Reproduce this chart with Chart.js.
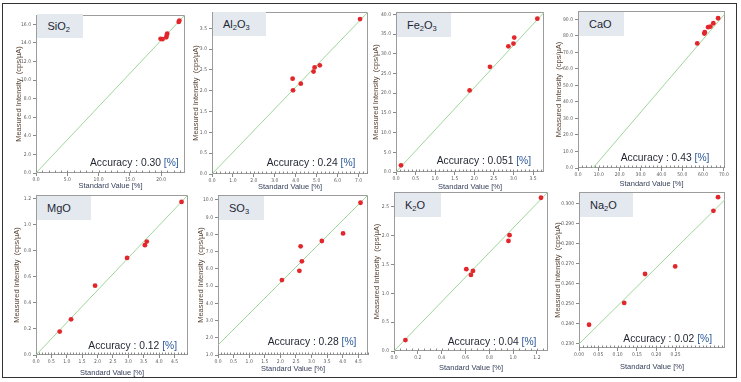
<!DOCTYPE html>
<html><head><meta charset="utf-8">
<script src="https://cdn.jsdelivr.net/npm/chart.js@4.4.1/dist/chart.umd.min.js"></script>
<style>
html,body{margin:0;padding:0;background:#fff;}
#stage{position:relative;width:741px;height:382px;overflow:hidden;font-family:"Liberation Sans",Arial,sans-serif;}
#frame{position:absolute;left:2px;top:2.5px;width:733px;height:373px;border:1.5px solid #333;}
canvas{position:absolute;}
.tag{position:absolute;background:#e4e9f0;color:#1d2733;font-size:11px;line-height:24px;height:24px;box-sizing:border-box;padding-left:10.5px;z-index:3;white-space:nowrap;}
.tag sub{font-size:7.5px;vertical-align:baseline;position:relative;top:2px;}
.acc{position:absolute;font-size:10.3px;color:#1f2430;white-space:nowrap;z-index:3;line-height:12px;}
.acc span{color:#2c5a9a;}
</style></head>
<body><div id="stage"><div id="frame"></div></div>
<script>
// ---------- data ----------
const panelNames = ["SiO2","Al2O3","Fe2O3","CaO","MgO","SO3","K2O","Na2O"];
const accuracyValues = ["0.30","0.24","0.051","0.43","0.12","0.28","0.04","0.02"];

const sio2X = [19.9, 20.2, 20.8, 20.9, 20.96, 22.8, 22.9];
const sio2Y = [14.44, 14.40, 14.60, 14.86, 15.0, 16.25, 16.4];
const sio2LineX = [0, 23.8], sio2LineY = [0, 17.0];
const sio2XRange = [0, 23.8], sio2YRange = [0, 17.0];
const sio2XTicks = ["0.0","5.0","10.0","15.0","20.0"];
const sio2YTicks = ["0.0","2.0","4.0","6.0","8.0","10.0","12.0","14.0","16.0"];

const al2o3X = [3.85, 3.87, 4.24, 4.85, 4.90, 5.15, 7.07];
const al2o3Y = [2.29, 2.01, 2.17, 2.46, 2.56, 2.61, 3.72];
const al2o3LineX = [0, 7.45], al2o3LineY = [0, 3.89];
const al2o3XRange = [0, 7.45], al2o3YRange = [0, 3.89];
const al2o3XTicks = ["0.0","1.0","2.0","3.0","4.0","5.0","6.0","7.0"];
const al2o3YTicks = ["0.0","0.5","1.0","1.5","2.0","2.5","3.0","3.5"];

const fe2o3X = [0.128, 1.88, 2.40, 2.87, 3.00, 3.02, 3.61];
const fe2o3Y = [1.69, 20.7, 26.7, 31.9, 32.6, 34.1, 38.9];
const fe2o3LineX = [0, 3.78], fe2o3LineY = [0, 40.5];
const fe2o3XRange = [0, 3.78], fe2o3YRange = [0, 40.6];
const fe2o3XTicks = ["0.0","0.5","1.0","1.5","2.0","2.5","3.0","3.5"];
const fe2o3YTicks = ["0.0","5.0","10.0","15.0","20.0","25.0","30.0","35.0","40.0"];

const caoX = [57.2, 60.6, 60.8, 62.4, 63.5, 64.9, 67.2];
const caoY = [75.4, 81.4, 82.2, 85.2, 85.6, 87.6, 90.6];
const caoLineX = [7.2, 70.5], caoLineY = [0, 93.4];
const caoXRange = [0, 70.5], caoYRange = [0, 95.0];
const caoXTicks = ["0.0","10.0","20.0","30.0","40.0","50.0","60.0","70.0"];
const caoYTicks = ["0.0","10.0","20.0","30.0","40.0","50.0","60.0","70.0","80.0","90.0"];

const mgoX = [0.77, 1.14, 1.92, 2.96, 3.54, 3.60, 4.73];
const mgoY = [0.18, 0.274, 0.533, 0.746, 0.844, 0.872, 1.177];
const mgoLineX = [0, 4.94], mgoLineY = [0, 1.23];
const mgoXRange = [0, 4.94], mgoYRange = [0, 1.23];
const mgoXTicks = ["0.0","0.5","1.0","1.5","2.0","2.5","3.0","3.5","4.0","4.5"];
const mgoYTicks = ["0.0","0.2","0.4","0.6","0.8","1.0","1.2"];

const so3X = [2.05, 2.61, 2.65, 2.69, 3.33, 4.01, 4.57];
const so3Y = [5.35, 5.89, 7.31, 6.44, 7.62, 8.06, 9.84];
const so3LineX = [0, 4.81], so3LineY = [1.58, 10.29];
const so3XRange = [0, 4.81], so3YRange = [1.0, 10.29];
const so3XTicks = ["0.0","0.5","1.0","1.5","2.0","2.5","3.0","3.5","4.0","4.5"];
const so3YTicks = ["1.0","2.0","3.0","4.0","5.0","6.0","7.0","8.0","9.0","10.0"];

const k2oX = [0.096, 0.607, 0.646, 0.663, 0.961, 0.970, 1.234];
const k2oY = [0.19, 1.42, 1.32, 1.39, 1.91, 2.01, 2.66];
const k2oLineX = [0, 1.293], k2oLineY = [0, 2.76];
const k2oXRange = [0, 1.293], k2oYRange = [0, 2.76];
const k2oXTicks = ["0.0","0.2","0.4","0.6","0.8","1.0","1.2"];
const k2oYTicks = ["0.0","0.5","1.0","1.5","2.0","2.5"];

const na2oX = [0.026, 0.117, 0.171, 0.249, 0.348, 0.360];
const na2oY = [0.2396, 0.2505, 0.2649, 0.2687, 0.2964, 0.3032];
const na2oLineX = [0, 0.378], na2oLineY = [0.230, 0.302];
const na2oXRange = [0, 0.378], na2oYRange = [0.228, 0.3058];
const na2oXTicks = ["0.00","0.05","0.10","0.15","0.20","0.25"];
const na2oYTicks = ["0.230","0.240","0.250","0.260","0.270","0.280","0.290","0.300"];

const series = [
  [sio2X, sio2Y, sio2LineX, sio2LineY, sio2XRange, sio2YRange, sio2XTicks, sio2YTicks],
  [al2o3X, al2o3Y, al2o3LineX, al2o3LineY, al2o3XRange, al2o3YRange, al2o3XTicks, al2o3YTicks],
  [fe2o3X, fe2o3Y, fe2o3LineX, fe2o3LineY, fe2o3XRange, fe2o3YRange, fe2o3XTicks, fe2o3YTicks],
  [caoX, caoY, caoLineX, caoLineY, caoXRange, caoYRange, caoXTicks, caoYTicks],
  [mgoX, mgoY, mgoLineX, mgoLineY, mgoXRange, mgoYRange, mgoXTicks, mgoYTicks],
  [so3X, so3Y, so3LineX, so3LineY, so3XRange, so3YRange, so3XTicks, so3YTicks],
  [k2oX, k2oY, k2oLineX, k2oLineY, k2oXRange, k2oYRange, k2oXTicks, k2oYTicks],
  [na2oX, na2oY, na2oLineX, na2oLineY, na2oXRange, na2oYRange, na2oXTicks, na2oYTicks]
];

// ---------- layout (positions / styles only) ----------
const layout = [
  {L:36,  T:15,  R:185, B:173, yt:18.8,  xt:186,   tag:[37,14,46],   acc:[90,157],    minor:1},
  {L:212, T:12,  R:368, B:174, yt:196.2, xt:187,   tag:[212.5,12,53],acc:[266.7,156.7],minor:0.2},
  {L:396, T:12,  R:544, B:172, yt:376.3, xt:187.3, tag:[396.5,12.7,54],acc:[436.7,154.7],minor:0.1},
  {L:578, T:11,  R:725, B:168, yt:558.7, xt:184,   tag:[578.5,11.5,45],acc:[620.7,152.3],minor:2},
  {L:36,  T:195, R:188, B:355, yt:17,    xt:372.5, tag:[36.5,195.5,54],acc:[88.3,339.7], minor:0.1},
  {L:218, T:195, R:368, B:355, yt:200.5, xt:369.3, tag:[218.5,195.5,45],acc:[267.7,335.7],minor:0.1},
  {L:394, T:192, R:548, B:351, yt:377,   xt:367.7, tag:[394.5,192.5,46],acc:[447.7,335.7],minor:0.05},
  {L:579, T:192, R:725, B:348, yt:558,   xt:366.7, tag:[579.5,192.5,53],acc:[623.3,333],  minor:0.01}
];

const tickFont = '"Liberation Sans Narrow","DejaVu Sans Condensed","Liberation Sans",Arial,sans-serif';
const titleFont = '"Liberation Sans",Arial,sans-serif';

const plotFrame = {
  id: 'plotFrame',
  beforeDatasetsDraw(chart, args, opts) {
    const {ctx, chartArea: a} = chart;
    const xs = chart.scales.x;
    ctx.save();
    ctx.strokeStyle = '#9c9c9c';
    ctx.lineWidth = 1;
    ctx.strokeRect(Math.round(a.left) + 0.5, Math.round(a.top) + 0.5,
                   Math.round(a.right - a.left) - 1, Math.round(a.bottom - a.top) - 1);
    const step = opts.step;
    if (step) {
      ctx.strokeStyle = '#8a8a8a';
      const n = Math.floor((xs.max - xs.min) / step + 1e-6);
      ctx.beginPath();
      for (let i = 0; i <= n; i++) {
        const px = Math.round(xs.getPixelForValue(xs.min + i * step)) + 0.5;
        ctx.moveTo(px, a.bottom);
        ctx.lineTo(px, a.bottom - 2.5);
      }
      ctx.stroke();
    }
    ctx.restore();
  }
};

const stage = document.getElementById('stage');

function subscript(name) {
  return name.replace(/(\d)/g, '<sub>$1</sub>');
}

series.forEach((s, i) => {
  const [xs, ys, lx, ly, xr, yr, xl, yl] = s;
  const p = layout[i];
  const padL = 40, padT = 8, padR = 10, axH = 26;
  const W = p.R - p.L + padL + padR;
  const H = p.B - p.T + padT + axH;
  const cx = p.L - padL, cy = p.T - padT;
  const c = document.createElement('canvas');
  c.width = W; c.height = H;
  c.style.left = cx + 'px'; c.style.top = cy + 'px';
  c.style.width = W + 'px'; c.style.height = H + 'px';
  stage.appendChild(c);

  const lh = 7.5 * 1.2;
  const yPad = Math.max(0, p.yt - cx - lh / 2);
  const xPad = Math.max(0, (cy + H) - p.xt - lh / 2);
  const xv = xl.map(Number), yv = yl.map(Number);

  new Chart(c, {
    type: 'scatter',
    data: {
      datasets: [
        { data: xs.map((x, k) => ({x, y: ys[k]})), pointRadius: 2.4, pointHoverRadius: 2.4,
          pointBackgroundColor: '#e2262b', pointBorderWidth: 0, showLine: false },
        { data: lx.map((x, k) => ({x, y: ly[k]})), showLine: true, pointRadius: 0,
          borderColor: '#9ed69a', borderWidth: 1, fill: false }
      ]
    },
    options: {
      responsive: false, maintainAspectRatio: false, animation: false, events: [],
      layout: { padding: { left: 0, top: padT, right: padR, bottom: 0 } },
      plugins: { legend: { display: false }, tooltip: { enabled: false }, plotFrame: { step: p.minor } },
      scales: {
        x: {
          type: 'linear', min: xr[0], max: xr[1],
          afterFit: sc => { sc.height = axH; },
          afterBuildTicks: sc => { sc.ticks = xv.map(v => ({value: v})); },
          ticks: { autoSkip: false, maxRotation: 0, minRotation: 0, padding: 1, color: '#5a5a5a',
                   font: { size: 5, family: tickFont }, callback: (v, k) => xl[k] },
          grid: { drawOnChartArea: false, drawTicks: true, tickLength: 3, color: '#8a8a8a' },
          border: { display: false },
          title: { display: true, text: 'Standard Value [%]', color: '#38425c',
                   font: { size: 7.5, family: titleFont }, padding: { top: 0, bottom: xPad } }
        },
        y: {
          type: 'linear', position: 'left', min: yr[0], max: yr[1],
          afterFit: sc => { sc.width = padL; },
          afterBuildTicks: sc => { sc.ticks = yv.map(v => ({value: v})); },
          ticks: { autoSkip: false, padding: 2, color: '#5a5a5a',
                   font: { size: 5, family: tickFont }, callback: (v, k) => yl[k] },
          grid: { drawOnChartArea: false, drawTicks: true, tickLength: 3, color: '#8a8a8a' },
          border: { display: false },
          title: { display: true, text: 'Measured Intensity  (cps/µA)', color: '#5a4636',
                   font: { size: 7.5, family: titleFont }, padding: { top: yPad, bottom: 0 } }
        }
      }
    },
    plugins: [plotFrame]
  });

  const tag = document.createElement('div');
  tag.className = 'tag';
  tag.style.left = p.tag[0] + 'px'; tag.style.top = p.tag[1] + 'px'; tag.style.width = p.tag[2] + 'px';
  tag.innerHTML = subscript(panelNames[i]);
  stage.appendChild(tag);

  const acc = document.createElement('div');
  acc.className = 'acc';
  acc.style.left = p.acc[0] + 'px'; acc.style.top = p.acc[1] + 'px';
  acc.innerHTML = 'Accuracy : ' + accuracyValues[i] + ' <span>[%]</span>';
  stage.appendChild(acc);
});
</script>
</body></html>
